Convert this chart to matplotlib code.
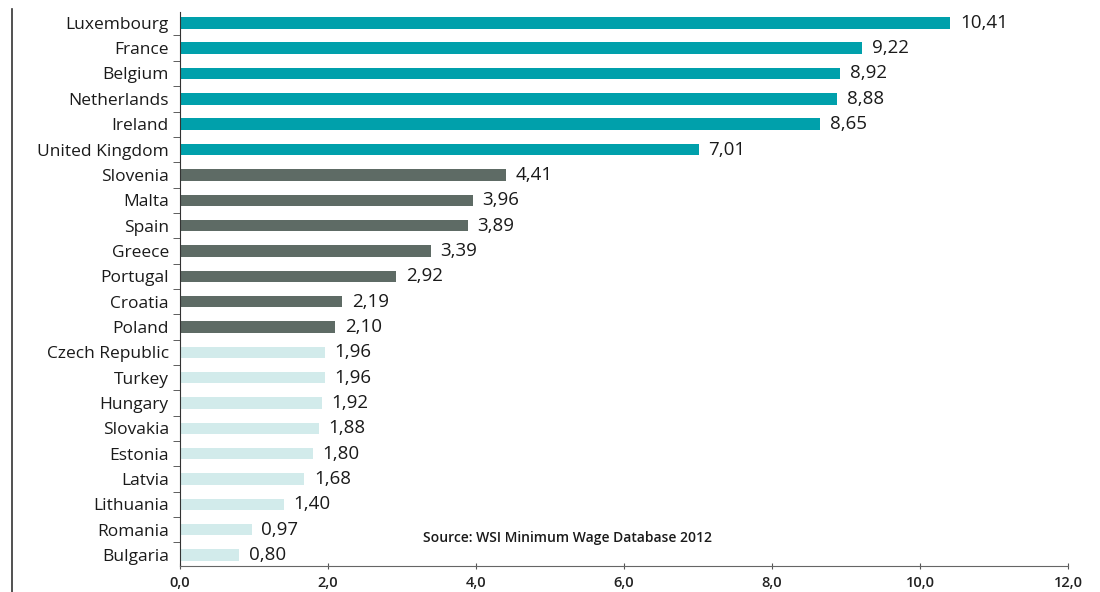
import numpy as np
import matplotlib.pyplot as plt
from matplotlib.lines import Line2D

countries = ['Luxembourg', 'France', 'Belgium', 'Netherlands', 'Ireland', 'United Kingdom',
             'Slovenia', 'Malta', 'Spain', 'Greece', 'Portugal', 'Croatia', 'Poland',
             'Czech Republic', 'Turkey', 'Hungary', 'Slovakia', 'Estonia', 'Latvia',
             'Lithuania', 'Romania', 'Bulgaria']
wages = [10.41, 9.22, 8.92, 8.88, 8.65, 7.01,
         4.41, 3.96, 3.89, 3.39, 2.92, 2.19, 2.10,
         1.96, 1.96, 1.92, 1.88, 1.80, 1.68, 1.40, 0.97, 0.80]
groups = [0] * 6 + [1] * 7 + [2] * 9
group_colors = ['#00A0AB', '#5E6B65', '#D2EBEB']

plt.rcParams['font.family'] = ['Open Sans', 'DejaVu Sans']

fig = plt.figure(figsize=(11, 5.92), dpi=100)
ax = fig.add_axes([0.1636, 0.0439, 0.8073, 0.936])

n = len(countries)
y = np.arange(n)[::-1]
colors = [group_colors[g] for g in groups]
ax.barh(y, wages, height=0.45, color=colors)

for yi, v in zip(y, wages):
    ax.text(v + 0.13, yi, f'{v:.2f}'.replace('.', ','), va='center', ha='left',
            fontsize=13.5, color='#1a1a1a')

ax.set_xlim(0, 12)
ax.set_ylim(-0.43, n - 1 + 0.43)
ax.set_yticks(y)
ax.set_yticklabels(countries, fontsize=12.5, color='#1a1a1a')
ax.tick_params(axis='y', length=0, pad=8)
ax.set_yticks(np.arange(n - 1) + 0.5, minor=True)
ax.tick_params(axis='y', which='minor', length=5, direction='out', color='#444444')

xt = np.arange(0, 13, 2)
ax.set_xticks(xt)
ax.set_xticklabels([f'{t:.1f}'.replace('.', ',') for t in xt], fontsize=10.5, fontweight='semibold', color='#222222')
ax.tick_params(axis='x', length=4, direction='inout', color='#555555', pad=5)

for s in ['top', 'right']:
    ax.spines[s].set_visible(False)
ax.spines['left'].set_color('#333333')
ax.spines['bottom'].set_color('#666666')

ax.text(3.28, 0.67, 'Source: WSI Minimum Wage Database 2012', fontsize=10, fontweight='semibold',
        color='#1a1a1a', va='center', ha='left')

fig.add_artist(Line2D([0.0105, 0.0105], [0.0, 0.985], color='#333333', lw=1.2))

fig.savefig('out.png', dpi=100)
